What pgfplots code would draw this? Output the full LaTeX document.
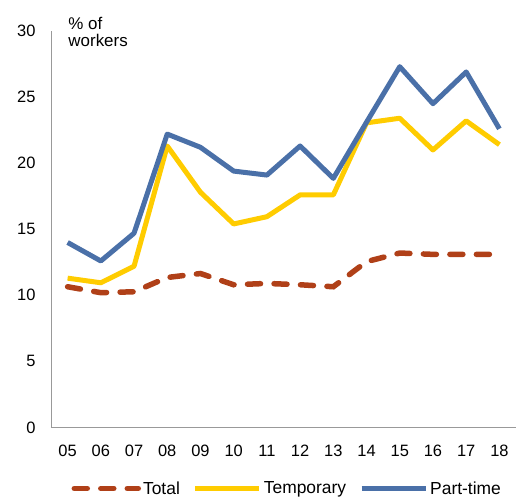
\documentclass[border=0pt]{standalone}
\usepackage{pgfplots}
\pgfplotsset{compat=1.18}
\usepackage{fontspec}
\setmainfont{Liberation Sans}
\definecolor{cTot}{HTML}{B04018}
\definecolor{cTmp}{HTML}{FFCC00}
\definecolor{cPt}{HTML}{4A70A8}
\begin{document}
\begin{tikzpicture}
\begin{axis}[
  scale only axis, width=465bp, height=396.5bp,
  xmin=-0.5, xmax=13.5, ymin=0, ymax=30,
  axis lines=left, axis line style={draw=gray!80, line width=0.8bp, -},
  xtick={0,...,13},
  xticklabels={05,06,07,08,09,10,11,12,13,14,15,16,17,18},
  ytick={0,5,...,30},
  major tick length=0pt,
  tick style={draw=none},
  /pgf/number format/assume math mode=true,
  ticklabel style={font=\fontsize{16.5}{18}\selectfont},
  xticklabel style={yshift=-14bp},
  yticklabel style={xshift=-12bp},
  clip=false,
  legend columns=3,
  legend style={draw=none, fill=none, at={(0.508,-61bp)}, anchor=center,
    font=\fontsize{17.5}{19}\selectfont, column sep=2bp,
    /tikz/every odd column/.append style={column sep=0bp},
    /tikz/every even column/.append style={column sep=11bp}},
  legend image code/.code={\draw[#1] (0bp,0bp) -- (64bp,0bp);},
]
\addplot[cTot, line width=5.5bp, line cap=round, dash pattern=on 13bp off 13.5bp] coordinates {
(0,10.65) (1,10.2) (2,10.27) (3,11.35) (4,11.65) (5,10.8) (6,10.9) (7,10.8) (8,10.65) (9,12.55) (10,13.2) (11,13.1) (12,13.1) (13,13.1)};
\addlegendentry{Total}
\addplot[cTmp, line width=5bp, line join=round] coordinates {
(0,11.3) (1,10.95) (2,12.2) (3,21.3) (4,17.8) (5,15.4) (6,15.95) (7,17.6) (8,17.6) (9,23.05) (10,23.4) (11,21.0) (12,23.2) (13,21.4)};
\addlegendentry{Temporary}
\addplot[cPt, line width=5bp, line join=round] coordinates {
(0,14.0) (1,12.6) (2,14.7) (3,22.2) (4,21.2) (5,19.4) (6,19.1) (7,21.3) (8,18.85) (9,23.1) (10,27.3) (11,24.5) (12,26.9) (13,22.6)};
\addlegendentry{Part-time}
\node[anchor=base west, inner sep=0pt, font=\fontsize{17}{18}\selectfont]
  at (axis cs:0.02,30) [yshift=1.7bp] {\% of};
\node[anchor=base west, inner sep=0pt, font=\fontsize{17}{18}\selectfont]
  at (axis cs:0.02,30) [yshift=-15.7bp] {workers};
\end{axis}
\pgfresetboundingbox
\path (-51bp,-71.5bp) rectangle (465bp,427.5bp);
\end{tikzpicture}
\end{document}
